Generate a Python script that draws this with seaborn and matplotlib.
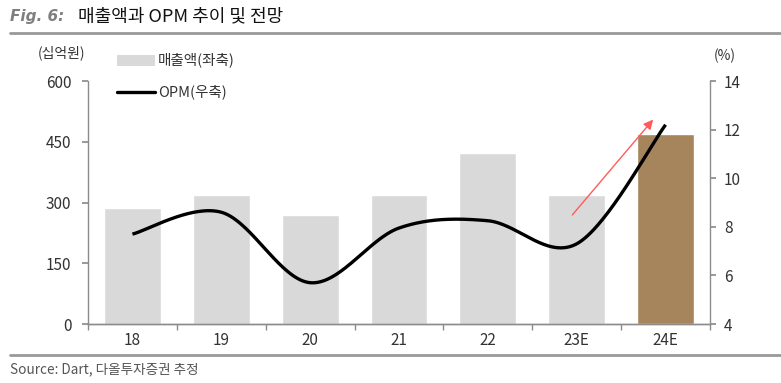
import numpy as np
import matplotlib
matplotlib.use("Agg")
import matplotlib.pyplot as plt
from matplotlib.lines import Line2D
from matplotlib.patches import Rectangle
import seaborn as sns

# Data
years = ["18", "19", "20", "21", "22", "23E", "24E"]
sales = [286, 319, 269, 319, 422, 319, 469]          # 매출액 (십억원)
opm = [7.7, 8.6, 5.7, 7.95, 8.25, 7.3, 12.2]          # OPM (%)
left_ticks = [0, 150, 300, 450, 600]
right_ticks = [4, 6, 8, 10, 12, 14]

sns.set_theme(style="white")
plt.rcParams["font.family"] = ["Noto Sans CJK KR", "DejaVu Sans"]

BAR_GRAY = "#d9d9d9"
BAR_BROWN = "#a6855d"
SPINE = "#8c8c8c"
TXT = "#333333"


def smooth_curve(x, y, steps=60):
    """Piecewise cubic Bezier through the points (spreadsheet-style smoothing)."""
    x = np.asarray(x, float)
    y = np.asarray(y, float)
    n = len(x)
    px = np.concatenate([[x[0]], x, [x[-1]]])
    py = np.concatenate([[y[0]], y, [y[-1]]])
    t = np.linspace(0, 1, steps)
    xs, ys = [], []
    for i in range(n - 1):
        p0 = np.array([px[i + 1], py[i + 1]])
        p3 = np.array([px[i + 2], py[i + 2]])
        p1 = p0 + (p3 - np.array([px[i], py[i]])) / 6
        p2 = p3 - (np.array([px[i + 3], py[i + 3]]) - p0) / 6
        b = ((1 - t) ** 3)[:, None] * p0 + (3 * (1 - t) ** 2 * t)[:, None] * p1 \
            + (3 * (1 - t) * t ** 2)[:, None] * p2 + (t ** 3)[:, None] * p3
        xs.append(b[:, 0])
        ys.append(b[:, 1])
    return np.concatenate(xs), np.concatenate(ys)


fig = plt.figure(figsize=(7.81, 3.83), dpi=100)
ax = fig.add_axes([0.1127, 0.154, 0.7964, 0.6345])

colors = [BAR_GRAY] * (len(years) - 1) + [BAR_BROWN]
sns.barplot(x=years, y=sales, hue=years, palette=colors, legend=False,
            width=0.64, saturation=1, ax=ax)
ax.set_xlim(-0.5, len(years) - 0.5)
ax.set_ylim(0, 600)
ax.set_yticks(left_ticks)
ax.set_xlabel("")
ax.set_ylabel("")

ax2 = ax.twinx()
xpos = np.arange(len(years))
cx, cy = smooth_curve(xpos, opm)
ax2.plot(cx, cy, color="black", lw=2.4, solid_capstyle="butt")
ax2.set_ylim(4, 14)
ax2.set_yticks(right_ticks)

# upward trend arrow
ax2.annotate("", xy=(5.88, 12.5), xytext=(4.93, 8.4),
             arrowprops=dict(arrowstyle="-|>", color="#ff5b5b", lw=1.0,
                             mutation_scale=14))

for a in (ax, ax2):
    a.spines["top"].set_visible(False)
    a.spines["left"].set_visible(a is ax)
    a.spines["right"].set_visible(a is ax2)
    for s in ("left", "right", "bottom"):
        a.spines[s].set_color(SPINE)
        a.spines[s].set_linewidth(1.0)

ax.tick_params(axis="y", which="major", direction="out", length=4,
               color=SPINE, labelsize=11, labelcolor=TXT, pad=8, left=True)
ax2.tick_params(axis="y", which="major", direction="out", length=4,
                color=SPINE, labelsize=11, labelcolor=TXT, pad=6, right=True)
ax.set_xticks(xpos)
ax.set_xticklabels(years)
ax.set_xticks(np.arange(-0.5, len(years)), minor=True)
ax.tick_params(axis="x", which="major", length=0, labelsize=11,
               labelcolor=TXT, pad=6)
ax.tick_params(axis="x", which="minor", length=4, color=SPINE,
               direction="out", bottom=True)

# axis unit labels
fig.text(38 / 781, 1 - 53 / 383, "(십억원)", fontsize=10, color=TXT,
         va="center", ha="left")
fig.text(714 / 781, 1 - 56 / 383, "(%)", fontsize=10, color=TXT,
         va="center", ha="left")

# legend
fig.add_artist(Rectangle((117 / 781, 1 - 66 / 383), 38 / 781, 11 / 383,
                         transform=fig.transFigure, color=BAR_GRAY, lw=0))
fig.text(158 / 781, 1 - 60 / 383, "매출액(좌축)", fontsize=10.5, color=TXT,
         va="center", ha="left")
fig.add_artist(Line2D([117 / 781, 155 / 781], [1 - 92 / 383, 1 - 92 / 383],
                      transform=fig.transFigure, color="black", lw=2.4))
fig.text(158 / 781, 1 - 92 / 383, "OPM(우축)", fontsize=10.5, color=TXT,
         va="center", ha="left")

# title block
fig.text(10 / 781, 1 - 16 / 383, "Fig. 6:", fontsize=11, color="#7f7f7f",
         fontweight="bold", fontstyle="italic", family="DejaVu Sans",
         va="center", ha="left")
fig.text(78 / 781, 1 - 16 / 383, "매출액과 OPM 추이 및 전망", fontsize=13,
         color="#111111", va="center", ha="left")
fig.add_artist(Line2D([10 / 781, 1.0], [1 - 33 / 383, 1 - 33 / 383],
                      transform=fig.transFigure, color="#999999", lw=2))
fig.add_artist(Line2D([10 / 781, 1.0], [1 - 355 / 383, 1 - 355 / 383],
                      transform=fig.transFigure, color="#999999", lw=2))
fig.text(10 / 781, 1 - 369 / 383, "Source: Dart, 다올투자증권 추정",
         fontsize=9.8, color="#555555", va="center", ha="left")

fig.savefig("out.png", dpi=100)
